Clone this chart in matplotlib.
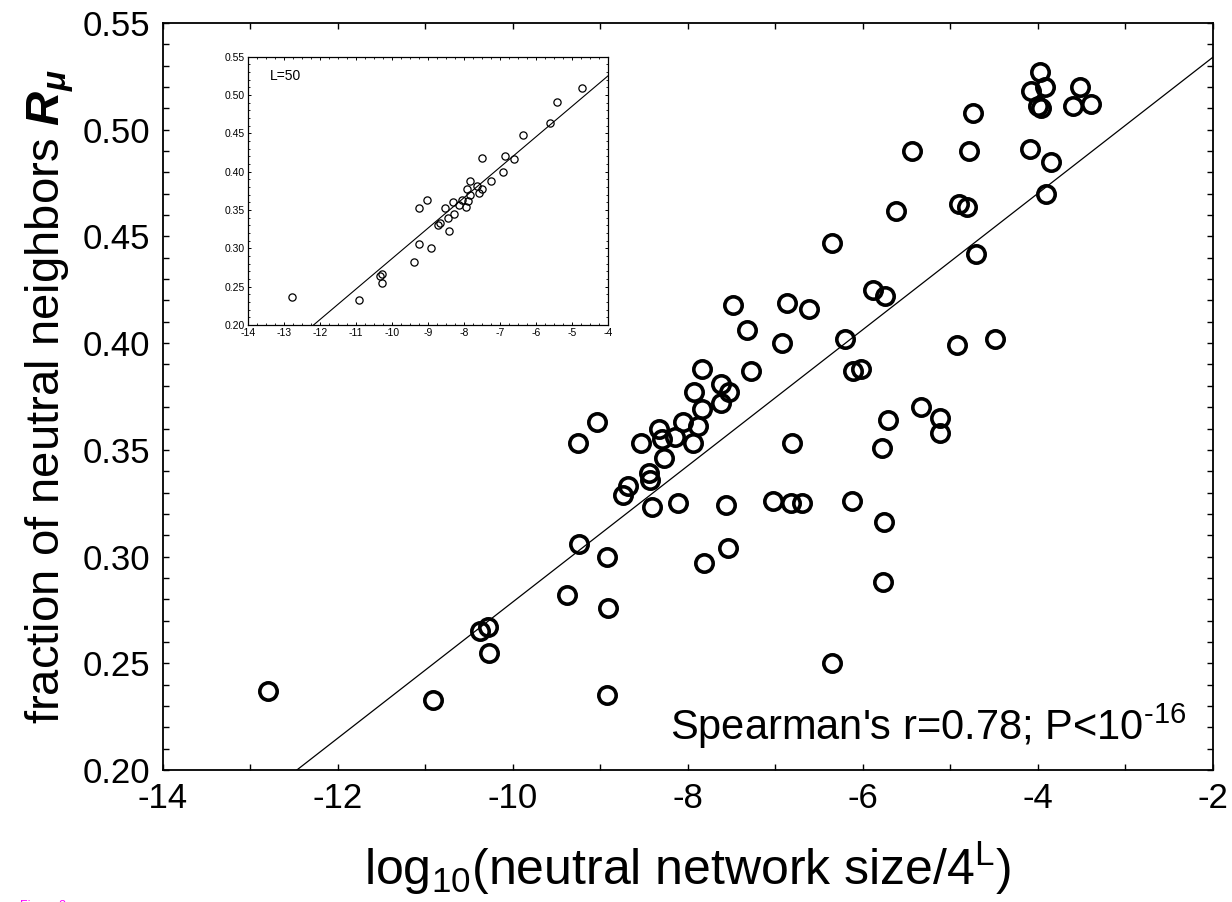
import matplotlib
matplotlib.use('Agg')
import matplotlib.pyplot as plt
import numpy as np
from matplotlib.ticker import MultipleLocator, FormatStrFormatter

plt.rcParams['font.family'] = ['Liberation Sans', 'DejaVu Sans']
plt.rcParams['axes.unicode_minus'] = False
plt.rcParams['mathtext.fontset'] = 'custom'
plt.rcParams['mathtext.rm'] = 'Liberation Sans'
plt.rcParams['mathtext.it'] = 'Liberation Sans:italic'
plt.rcParams['mathtext.bf'] = 'Liberation Sans:bold:italic'

# main panel: all lengths
main_x = [-12.80, -10.91, -10.38, -10.29, -10.27, -9.38, -9.25, -8.93, -8.91, -8.93,
          -9.26, -9.04, -8.74, -8.69, -8.43, -8.45, -8.41, -8.54, -8.33, -8.30,
          -8.27, -8.15, -8.06, -7.94, -7.89, -7.84, -7.93, -7.84, -7.62, -7.53,
          -7.62, -8.11, -7.57, -7.82, -7.54, -7.49, -7.33, -7.28, -7.03, -6.82,
          -6.70, -6.81, -6.93, -6.87, -6.62, -6.35, -6.35, -6.13, -6.21, -6.11,
          -6.02, -5.89, -5.75, -5.71, -5.78, -5.76, -5.77, -5.62, -5.44, -5.34,
          -5.12, -5.12, -4.93, -4.49, -4.90, -4.81, -4.71, -4.74, -4.79, -4.09,
          -3.91, -3.85, -3.98, -3.92, -4.08, -4.00, -3.97, -3.52, -3.60, -3.39]
main_y = [0.237, 0.233, 0.265, 0.267, 0.255, 0.282, 0.306, 0.300, 0.276, 0.235,
          0.353, 0.363, 0.329, 0.333, 0.336, 0.339, 0.323, 0.353, 0.360, 0.355,
          0.346, 0.356, 0.363, 0.353, 0.361, 0.369, 0.377, 0.388, 0.381, 0.377,
          0.372, 0.325, 0.324, 0.297, 0.304, 0.418, 0.406, 0.387, 0.326, 0.325,
          0.325, 0.353, 0.400, 0.419, 0.416, 0.447, 0.250, 0.326, 0.402, 0.387,
          0.388, 0.425, 0.422, 0.364, 0.351, 0.316, 0.288, 0.462, 0.490, 0.370,
          0.365, 0.358, 0.399, 0.402, 0.465, 0.464, 0.442, 0.508, 0.490, 0.491,
          0.470, 0.485, 0.527, 0.520, 0.518, 0.511, 0.510, 0.520, 0.511, 0.512]
main_fit = [0.0319, 0.5978]  # slope, intercept

# inset: L=50
inset_x = [-12.79, -10.91, -10.34, -10.27, -10.27, -9.38, -9.25, -8.92, -9.25, -9.02,
           -8.73, -8.67, -8.41, -8.44, -8.28, -8.53, -8.32, -8.14, -8.06, -7.94,
           -7.88, -7.83, -7.93, -7.83, -7.63, -7.51, -7.60, -7.49, -7.26, -6.91,
           -6.86, -6.61, -6.35, -5.61, -5.43, -4.73]
inset_y = [0.236, 0.232, 0.264, 0.266, 0.255, 0.282, 0.306, 0.300, 0.353, 0.363,
           0.330, 0.333, 0.323, 0.339, 0.345, 0.353, 0.360, 0.356, 0.363, 0.354,
           0.362, 0.369, 0.378, 0.388, 0.381, 0.378, 0.372, 0.418, 0.388, 0.400,
           0.420, 0.416, 0.448, 0.463, 0.491, 0.509]
inset_fit = [0.0397, 0.6838]

W, H = 1232, 902
fig = plt.figure(figsize=(W / 100, H / 100), dpi=100)

# main axes
ax = fig.add_axes([163 / W, 1 - 770 / H, (1213 - 163) / W, (770 - 23) / H])
ax.plot(main_x, main_y, 'o', ms=12.5, mfc='none', mec='black', mew=2.6)
xx = np.array([-14, -2])
ax.plot(xx, main_fit[0] * xx + main_fit[1], color='black', lw=0.9)
ax.set_xlim(-14, -2)
ax.set_ylim(0.20, 0.55)
ax.xaxis.set_major_locator(MultipleLocator(2))
ax.xaxis.set_minor_locator(MultipleLocator(1))
ax.yaxis.set_major_locator(MultipleLocator(0.05))
ax.yaxis.set_minor_locator(MultipleLocator(0.01))
ax.yaxis.set_major_formatter(FormatStrFormatter('%.2f'))
ax.tick_params(which='both', direction='in', top=True, right=True,
               length=4, width=1, labelsize=25, pad=9)
for s in ax.spines.values():
    s.set_linewidth(1.3)
ax.set_xlabel(r'log$_{\mathrm{10}}$(neutral network size/4$^{\mathrm{L}}$)',
              fontsize=36, labelpad=17)
ax.set_ylabel(r'fraction of neutral neighbors $\mathbf{R_{\mu}}$',
              fontsize=34, labelpad=5)
ax.text(-2.3, 0.214, r"Spearman's r=0.78; P<10$^{\text{-16}}$",
        fontsize=30, ha='right', va='baseline')

# inset axes
ins = fig.add_axes([248.3 / W, 1 - 325 / H, (608 - 248.3) / W, (325 - 56.7) / H])
ins.plot(inset_x, inset_y, 'o', ms=5.2, mfc='none', mec='black', mew=0.9)
xi = np.array([-14, -4])
ins.plot(xi, inset_fit[0] * xi + inset_fit[1], color='black', lw=0.8)
ins.set_xlim(-14, -4)
ins.set_ylim(0.20, 0.55)
ins.xaxis.set_major_locator(MultipleLocator(1))
ins.xaxis.set_minor_locator(MultipleLocator(0.25))
ins.yaxis.set_major_locator(MultipleLocator(0.05))
ins.yaxis.set_minor_locator(MultipleLocator(0.01))
ins.yaxis.set_major_formatter(FormatStrFormatter('%.2f'))
ins.tick_params(which='major', direction='in', top=True, right=True,
                length=2.5, width=0.7, labelsize=7.5, pad=2.5)
ins.tick_params(which='minor', direction='in', top=True, right=True,
                length=1.5, width=0.6)
for s in ins.spines.values():
    s.set_linewidth(0.9)
ins.text(-13.4, 0.5196, 'L=50', fontsize=10, ha='left', va='baseline')

fig.text(20 / W, 2 / H, 'Figure 2', fontsize=9, color='#ff00ff', ha='left', va='top')

plt.savefig('out.png', dpi=100)
